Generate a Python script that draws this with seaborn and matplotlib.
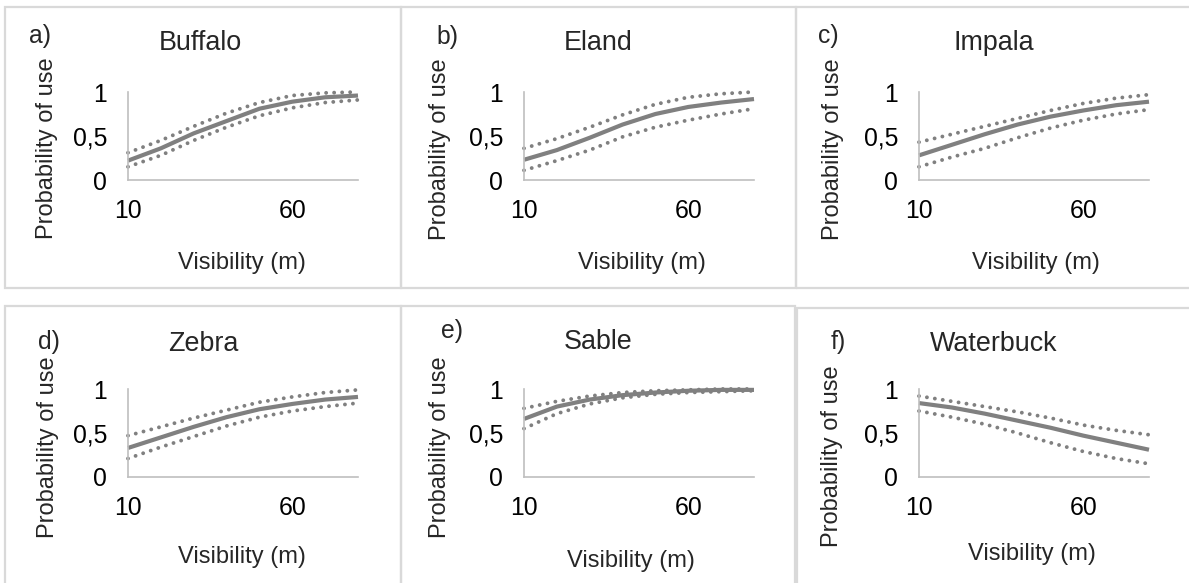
import numpy as np
import pandas as pd
import matplotlib
matplotlib.use("Agg")
import matplotlib.pyplot as plt
from matplotlib.patches import Rectangle
import seaborn as sns

# ---------------- data ----------------
visibility = [10, 20, 30, 40, 50, 60, 70, 80]

species = ["Buffalo", "Eland", "Impala", "Zebra", "Sable", "Waterbuck"]
panel_letters = ["a)", "b)", "c)", "d)", "e)", "f)"]

buffalo_mean = [0.22, 0.36, 0.53, 0.67, 0.81, 0.89, 0.94, 0.96]
buffalo_upper = [0.31, 0.45, 0.61, 0.76, 0.88, 0.96, 0.99, 1.00]
buffalo_lower = [0.15, 0.28, 0.45, 0.60, 0.73, 0.82, 0.88, 0.91]

eland_mean = [0.23, 0.34, 0.48, 0.63, 0.75, 0.83, 0.88, 0.92]
eland_upper = [0.36, 0.47, 0.60, 0.74, 0.86, 0.94, 0.98, 1.00]
eland_lower = [0.11, 0.22, 0.34, 0.49, 0.60, 0.68, 0.75, 0.81]

impala_mean = [0.28, 0.40, 0.52, 0.63, 0.72, 0.79, 0.85, 0.89]
impala_upper = [0.43, 0.52, 0.61, 0.70, 0.79, 0.87, 0.93, 0.97]
impala_lower = [0.15, 0.26, 0.36, 0.48, 0.59, 0.68, 0.75, 0.80]

zebra_mean = [0.33, 0.45, 0.57, 0.68, 0.77, 0.83, 0.88, 0.91]
zebra_upper = [0.47, 0.57, 0.67, 0.76, 0.85, 0.91, 0.96, 0.99]
zebra_lower = [0.21, 0.34, 0.46, 0.58, 0.68, 0.75, 0.80, 0.84]

sable_mean = [0.66, 0.80, 0.88, 0.93, 0.96, 0.98, 0.99, 0.99]
sable_upper = [0.78, 0.86, 0.92, 0.96, 0.98, 0.99, 1.00, 1.00]
sable_lower = [0.55, 0.72, 0.83, 0.90, 0.94, 0.96, 0.97, 0.98]

waterbuck_mean = [0.84, 0.79, 0.72, 0.64, 0.56, 0.47, 0.39, 0.31]
waterbuck_upper = [0.92, 0.86, 0.80, 0.74, 0.67, 0.59, 0.53, 0.48]
waterbuck_lower = [0.75, 0.68, 0.60, 0.50, 0.39, 0.29, 0.21, 0.15]

x_ticks = [10, 60]
y_ticks = [0, 0.5, 1]
y_tick_labels = ["0", "0,5", "1"]
x_label = "Visibility (m)"
y_label = "Probability of use"

series = {
    "Buffalo": (buffalo_mean, buffalo_upper, buffalo_lower),
    "Eland": (eland_mean, eland_upper, eland_lower),
    "Impala": (impala_mean, impala_upper, impala_lower),
    "Zebra": (zebra_mean, zebra_upper, zebra_lower),
    "Sable": (sable_mean, sable_upper, sable_lower),
    "Waterbuck": (waterbuck_mean, waterbuck_upper, waterbuck_lower),
}

# ---------------- style ----------------
sns.set_style("white")
plt.rcParams["font.family"] = ["Liberation Sans", "DejaVu Sans"]
plt.rcParams["lines.dash_capstyle"] = "round"

W, H = 1189, 583
fig = plt.figure(figsize=(W / 100, H / 100), dpi=100)
fig.patch.set_facecolor("white")


def fx(px):
    return px / W


def fy(py):
    return 1 - py / H


LINE = "#808080"
AXIS = "#BFBFBF"
BOX = "#D9D9D9"
LAB = 17
TICK = 17.8
TITLE = 19.4

# panel boxes (pixel coords)
boxes = [(5, 7, 401, 288), (401, 7, 796, 288), (796, 7, 1196, 288),
         (5, 306, 401, 592), (401, 306, 795, 592), (797, 308, 1196, 592)]
for (x0, y0, x1, y1) in boxes:
    fig.patches.append(Rectangle((fx(x0), fy(y1)), fx(x1) - fx(x0), (y1 - y0) / H,
                                 transform=fig.transFigure, fill=False,
                                 edgecolor=BOX, lw=1.6, zorder=0))

col_off = [0, 396, 791]
row_off = [0, 297]

# per-panel text positions relative to panel origin (pixels)
letter_pos = [(40, 36), (51, 37), (37, 36), (49, 45), (56, 34), (47, 45)]
title_pos = [(200, 43), (202, 43), (203, 43), (203, 47), (202, 45), (203, 47)]
ylab_pos = [(47, 148), (44, 149), (42, 149), (48, 150), (44, 150), (41, 159)]
xlab_pos = [(242, 263), (246, 263), (245, 263), (242, 260), (235, 264), (241, 257)]

for i, name in enumerate(species):
    r, c = divmod(i, 3)
    ox, oy = col_off[c], row_off[r]
    left, right, top, bottom = 128 + ox, 358 + ox, 92 + oy, 180 + oy
    ax = fig.add_axes([fx(left), fy(bottom), (right - left) / W, (bottom - top) / H])
    mean, upper, lower = series[name]
    df = pd.DataFrame({"x": visibility, "mean": mean, "upper": upper, "lower": lower})
    for col in ["upper", "lower"]:
        sns.lineplot(data=df, x="x", y=col, ax=ax, color=LINE, linewidth=2.8,
                     clip_on=False)
    for ln in ax.lines:
        ln.set_linestyle((0, (0.01, 2.05)))
        ln.set_dash_capstyle("round")
    sns.lineplot(data=df, x="x", y="mean", ax=ax, color=LINE, linewidth=3.0,
                 solid_capstyle="butt", solid_joinstyle="round", clip_on=False)
    ax.set_xlim(10, 80)
    ax.set_ylim(0, 1)
    ax.set_xticks(x_ticks)
    ax.set_xticklabels([str(t) for t in x_ticks])
    ax.set_yticks(y_ticks)
    ax.set_yticklabels(y_tick_labels)
    ax.set_xlabel("")
    ax.set_ylabel("")
    for s in ["top", "right"]:
        ax.spines[s].set_visible(False)
    for s in ["left", "bottom"]:
        ax.spines[s].set_color(AXIS)
        ax.spines[s].set_linewidth(1.2)
    ax.tick_params(axis="both", direction="out", length=4, width=1.2, color=AXIS,
                   labelsize=TICK, labelcolor="black")
    ax.tick_params(axis="x", pad=10)
    ax.tick_params(axis="y", pad=11)
    ax.set_facecolor("none")

    lx, ly = letter_pos[i]
    fig.text(fx(ox + lx), fy(oy + ly), panel_letters[i], ha="center", va="center",
             fontsize=TICK)
    tx, ty = title_pos[i]
    fig.text(fx(ox + tx), fy(oy + ty), name, ha="center", va="center", fontsize=TITLE)
    yx, yy = ylab_pos[i]
    fig.text(fx(ox + yx), fy(oy + yy), y_label, ha="center", va="center",
             rotation=90, fontsize=LAB)
    xx, xy = xlab_pos[i]
    fig.text(fx(ox + xx), fy(oy + xy), x_label, ha="center", va="center", fontsize=LAB)

fig.savefig("out.png", dpi=100, facecolor="white")
